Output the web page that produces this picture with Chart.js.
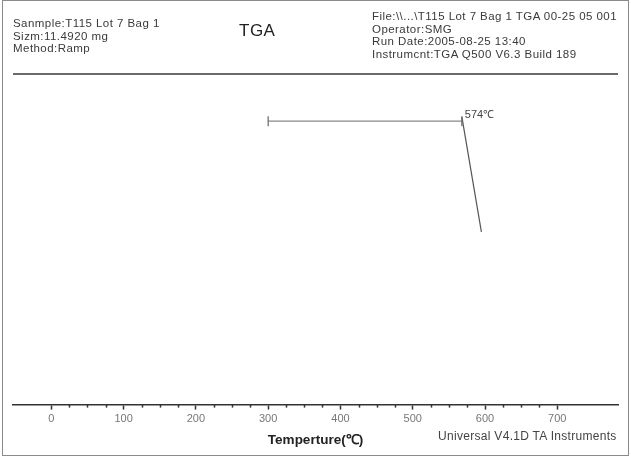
<!DOCTYPE html>
<html>
<head>
<meta charset="utf-8">
<script src="https://cdn.jsdelivr.net/npm/chart.js@4.4.1/dist/chart.umd.min.js"></script>
<style>
  html, body { margin:0; padding:0; background:#fff; }
  #wrap { position:relative; width:631px; height:456px; overflow:hidden; font-family:"Liberation Sans", Arial, sans-serif; color:#333; }
  #frame { position:absolute; left:2px; top:0px; width:625px; height:454px; border:1px solid #8a8a8a; pointer-events:none; }
  .t { position:absolute; white-space:nowrap; font-size:11.5px; line-height:12.5px; letter-spacing:0.45px; color:#3a3a3a; }
  #sep { position:absolute; left:13px; top:73px; width:605px; height:2px; background:#6a6a6a; }
  canvas { position:absolute; left:0; top:0; }
</style>
</head>
<body>
<div id="wrap">
  <canvas id="c" width="631" height="456"></canvas>
  <div id="frame"></div>
  <div class="t" style="left:13px; top:17px;">Sanmple:T115 Lot 7 Bag 1<br>Sizm:11.4920 mg<br>Method:Ramp</div>
  <div class="t" style="left:239px; top:22px; font-size:17px; line-height:18px; letter-spacing:0.5px; color:#222;">TGA</div>
  <div class="t" style="left:372px; top:10px; letter-spacing:0.45px;">File:\\...\T115 Lot 7 Bag 1 TGA 00-25 05 001<br>Operator:SMG<br>Run Date:2005-08-25 13:40<br>Instrumcnt:TGA Q500 V6.3 Build 189</div>
  <div id="sep"></div>
  <div class="t" style="left:438px; top:430px; font-size:12px; letter-spacing:0.3px; color:#444;">Universal V4.1D TA Instruments</div>
</div>
<script>
// Temperature axis (°C)
const tickValues = [0,25,50,75,100,125,150,175,200,225,250,275,300,325,350,375,400,425,450,475,500,525,550,575,600,625,650,675,700];
const majorLabels = [0,100,200,300,400,500,600,700];
// Baseline segment (temperature, weight %)
const baseTemp = [300, 568];
const baseWeight = [86.0, 86.0];
// Tangent segment (temperature, weight %)
const tangentTemp = [568, 595];
const tangentWeight = [87.3, 52.4];
const onsetLabel = "574℃";

const basePts = baseTemp.map((t,i)=>({x:t, y:baseWeight[i]}));
const tangentPts = tangentTemp.map((t,i)=>({x:t, y:tangentWeight[i]}));

const extras = {
  id:'extras',
  afterDraw(chart){
    const ctx = chart.ctx, xs = chart.scales.x, ys = chart.scales.y;
    const yAxis = chart.chartArea.bottom;
    ctx.save();
    ctx.strokeStyle = '#333';
    ctx.lineWidth = 1.5;
    tickValues.forEach(v=>{
      if (majorLabels.includes(v)) return;
      const px = Math.round(xs.getPixelForValue(v)) + 0.5;
      ctx.beginPath(); ctx.moveTo(px, yAxis); ctx.lineTo(px, yAxis+3); ctx.stroke();
    });
    // onset label
    ctx.fillStyle = '#444';
    ctx.font = '11px "Liberation Sans", Arial, sans-serif';
    ctx.textBaseline = 'middle';
    ctx.fillText(onsetLabel, xs.getPixelForValue(baseTemp[1]) + 3, ys.getPixelForValue(baseWeight[1]) - 6);
    ctx.restore();
  }
};

new Chart(document.getElementById('c'), {
  type:'line',
  data:{
    datasets:[
      { data: basePts, borderColor:'#888', borderWidth:1.2, pointStyle:'line', rotation:90, pointRadius:5, pointBorderColor:'#666', pointBorderWidth:1.2, pointBackgroundColor:'#666', fill:false, tension:0 },
      { data: tangentPts, borderColor:'#555', borderWidth:1.2, pointRadius:0, fill:false, tension:0 }
    ]
  },
  options:{
    responsive:false,
    animation:false,
    devicePixelRatio:1,
    layout:{ padding:{ left:13, right:13, top:75, bottom:4 } },
    plugins:{ legend:{display:false}, tooltip:{enabled:false}, title:{display:false} },
    scales:{
      x:{
        type:'linear', min:-53, max:784,
        afterBuildTicks(scale){ scale.ticks = tickValues.map(v=>({value:v})); },
        ticks:{
          autoSkip:false, maxRotation:0, padding:3,
          color:'#777',
          font:{ family:'"Liberation Sans", Arial, sans-serif', size:11 },
          callback:(v)=> majorLabels.includes(v) ? String(v) : ''
        },
        grid:{ display:true, drawOnChartArea:false, drawTicks:true, tickLength:5, tickWidth:1.5,
               tickColor:(c)=> (c.tick && majorLabels.includes(c.tick.value)) ? '#333' : 'rgba(0,0,0,0)' },
        border:{ display:true, color:'#333', width:1.5 },
        title:{ display:true, text:'Temperture(℃)', color:'#222',
                font:{ family:'"Liberation Sans", Arial, sans-serif', size:13.5, weight:'bold' },
                padding:{ top:3, bottom:4 } }
      },
      y:{ type:'linear', min:0, max:100, display:false }
    }
  },
  plugins:[extras]
});
</script>
</body>
</html>
